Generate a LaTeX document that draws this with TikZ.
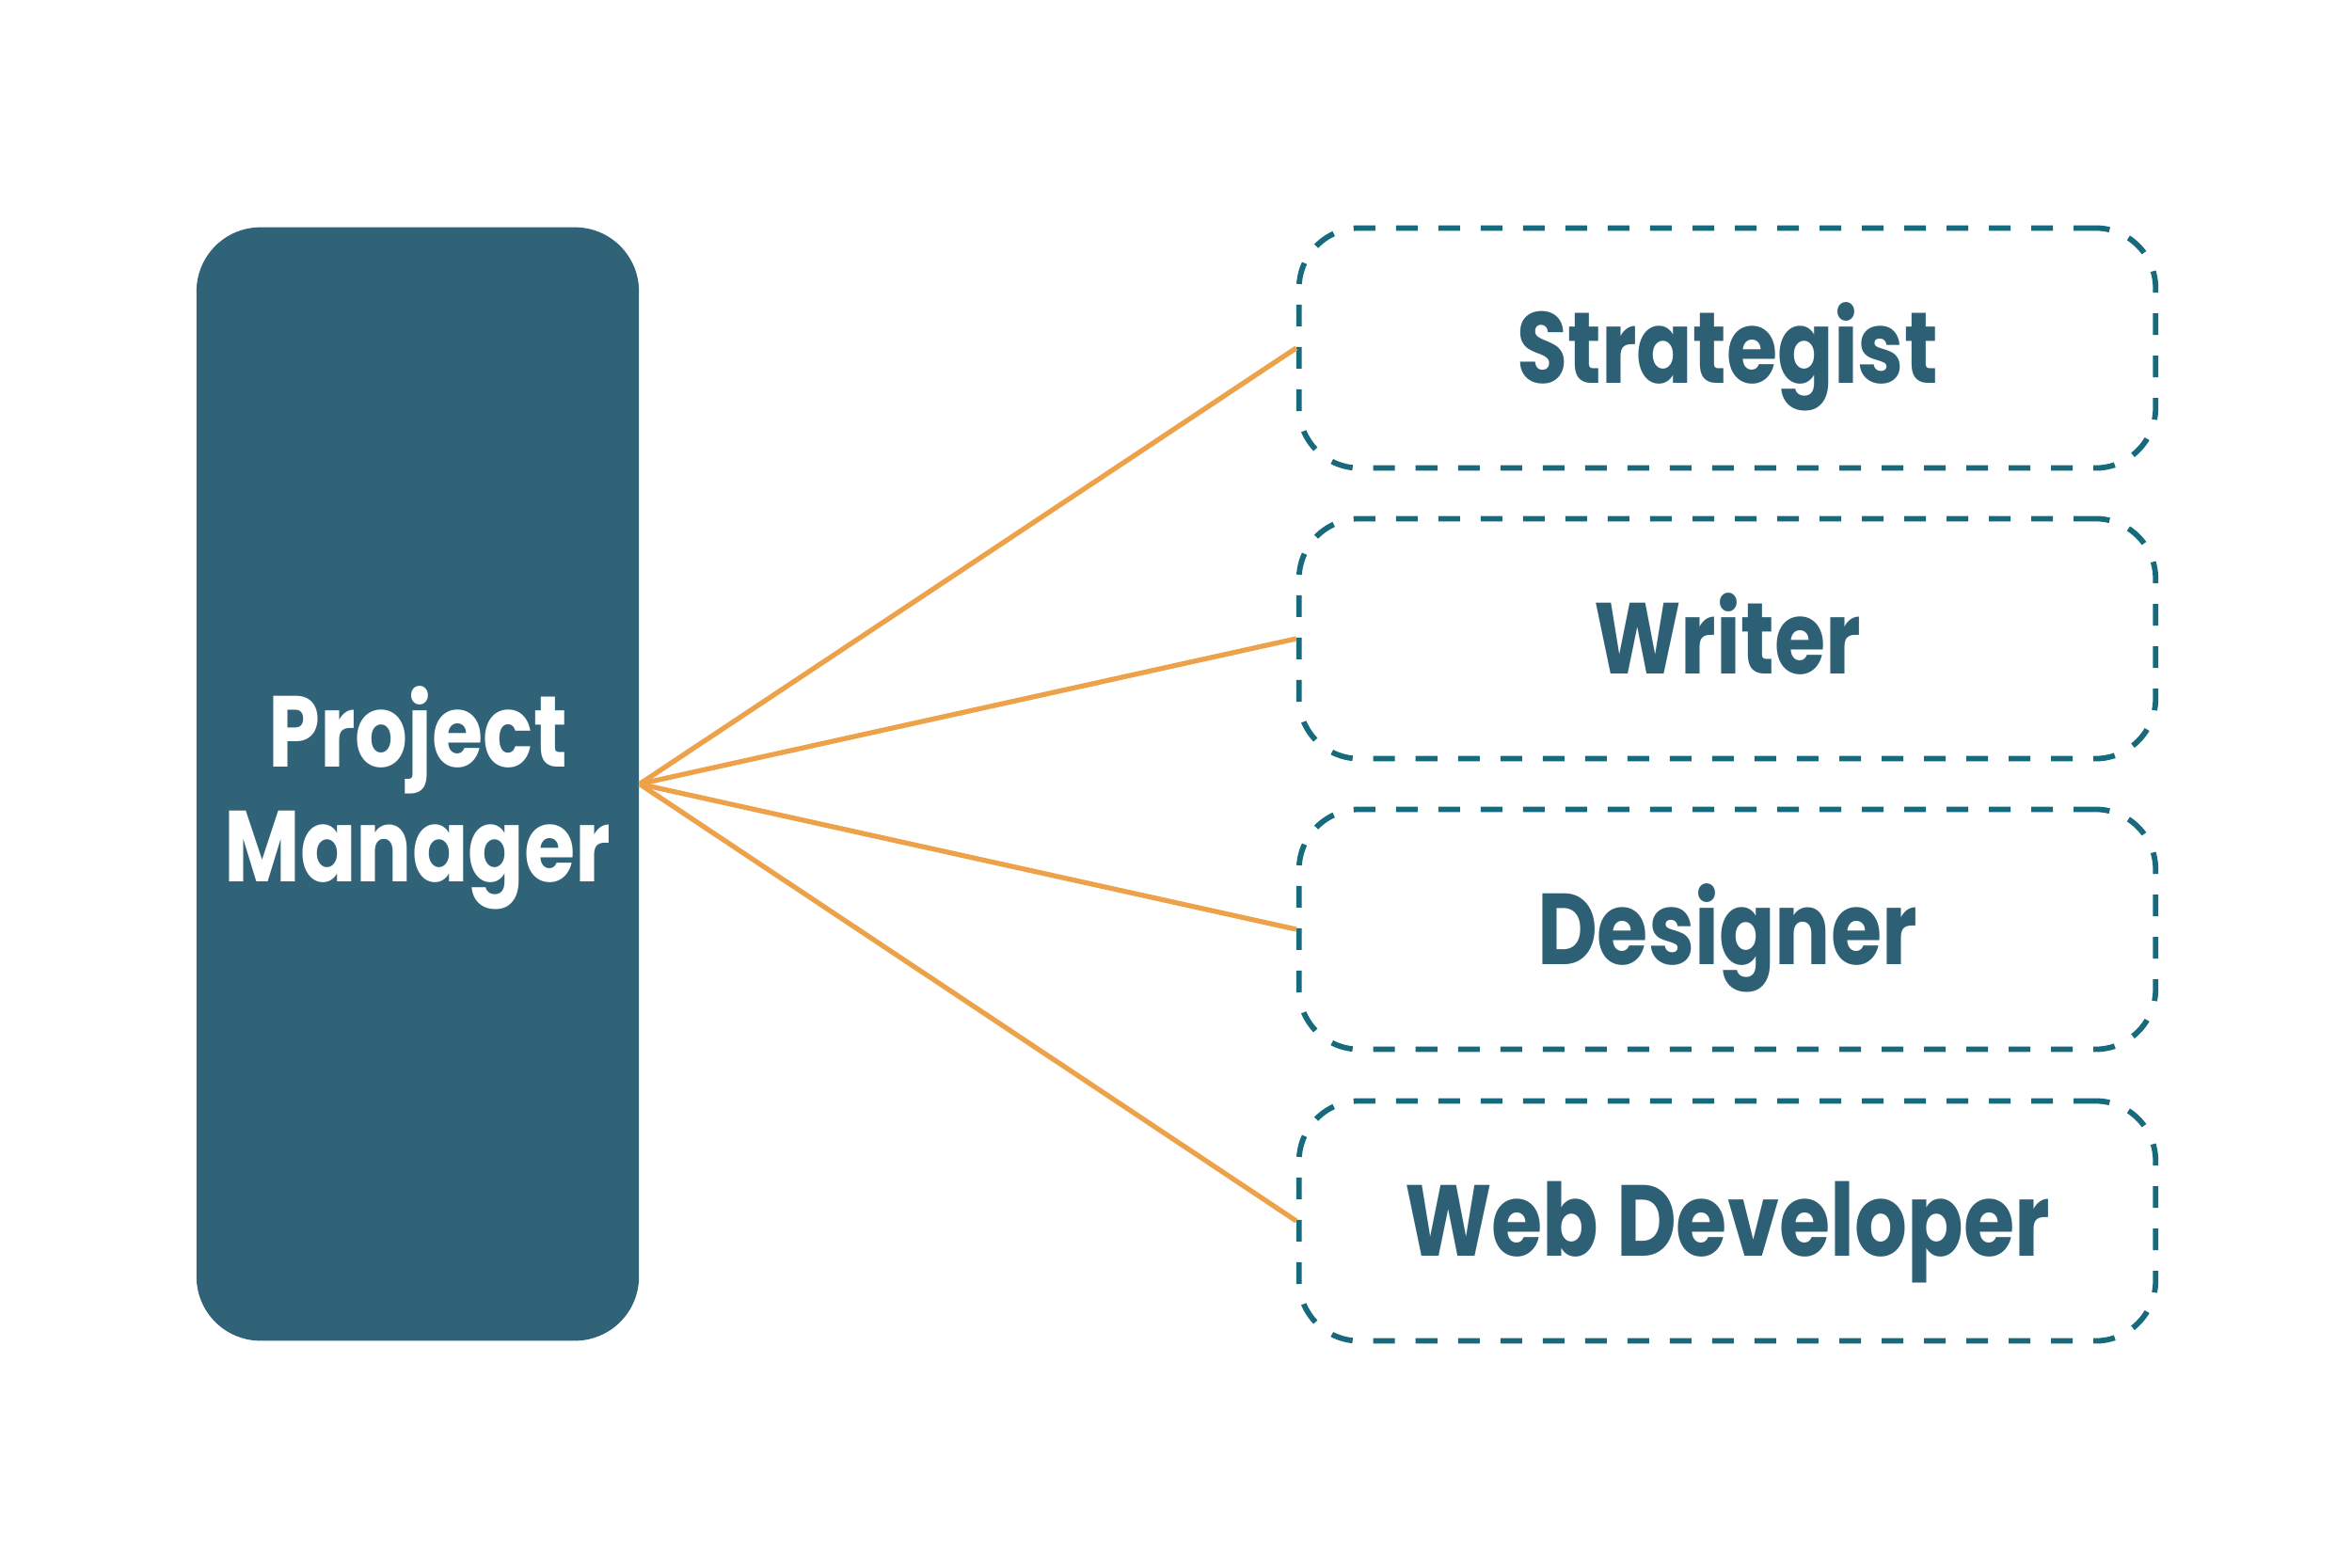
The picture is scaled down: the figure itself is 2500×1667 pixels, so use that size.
\documentclass[tikz,border=0pt]{standalone}
\usepackage{fontspec}
\newfontfamily\labelfont{Poppins}[FakeStretch=0.82]
\definecolor{pmfill}{HTML}{316378}
\definecolor{roletext}{HTML}{2E6075}
\definecolor{dashcol}{HTML}{176A7C}
\definecolor{linkcol}{HTML}{EDA24A}
\tikzset{
  pmbox/.style={draw=none, fill=pmfill, rounded corners=0.68cm, minimum width=4.7cm, minimum height=11.83cm, inner sep=0pt},
  pmtextstyle/.style={text=white, align=center, font=\labelfont\bfseries\fontsize{30.5}{34.8}\selectfont, inner sep=0pt},
  rolebox/.style={draw=dashcol, line width=1.65pt, dash pattern=on 0.23cm off 0.22cm, rounded corners=0.64cm,
    minimum width=9.1cm, minimum height=2.55cm, inner sep=0pt, text=roletext,
    font=\labelfont\bfseries\fontsize{30.5}{35}\selectfont, text height=0.75cm, text depth=0pt},
  link/.style={draw=linkcol, line width=1.5pt}
}
\begin{document}
\begin{tikzpicture}[x=0.01cm, y=-0.01cm]
\useasboundingbox (0,0) rectangle (2500,1667);
\node[pmbox] (pm) at (444,833.5) {};
\node[pmtextstyle, yshift=-0.15cm] (pmtext) at (pm.center) {Project\\Manager};
\node[rolebox] (s1) at (1836,370) {Strategist};
\node[rolebox] (s2) at (1836,679) {Writer};
\node[rolebox] (s3) at (1836,988) {Designer};
\node[rolebox] (s4) at (1836,1298) {Web Developer};
\foreach \n in {s1,s2,s3,s4} \draw[link] (pm.east) -- (\n.west);
\end{tikzpicture}
\end{document}
